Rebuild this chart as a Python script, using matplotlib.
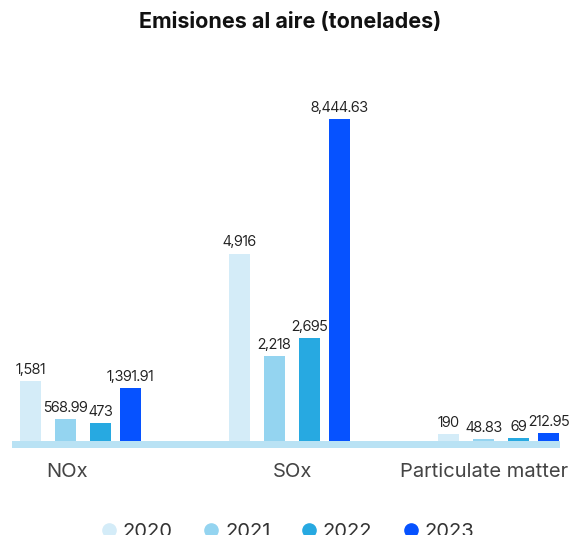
import matplotlib.pyplot as plt
from matplotlib.lines import Line2D

plt.rcParams['font.family'] = ['Inter', 'DejaVu Sans']

# emissions to air, tonnes
categories = ['NOx', 'SOx', 'Particulate matter']
years = ['2020', '2021', '2022', '2023']
values = {
    '2020': [1581, 4916, 190],
    '2021': [568.99, 2218, 48.83],
    '2022': [473, 2695, 69],
    '2023': [1391.91, 8444.63, 212.95],
}
value_labels = {
    '2020': ['1,581', '4,916', '190'],
    '2021': ['568.99', '2,218', '48.83'],
    '2022': ['473', '2,695', '69'],
    '2023': ['1,391.91', '8,444.63', '212.95'],
}
colors = ['#d4ecf8', '#94d4f0', '#27a9e1', '#0652ff']

# layout in pixel units of the canvas
W, H = 571, 535
group_start = [20, 229, 438]
bar_offset = [0, 35, 70, 100]
bar_w = 21
label_x = [67, 292, 484]
u = 8444.63 / 322          # data units per pixel
base_px, top_px = 448, 60  # bottom of baseline band, top of axes

fig = plt.figure(figsize=(W / 100, H / 100), dpi=100)
ax = fig.add_axes([0, (H - base_px) / H, 1, (base_px - top_px) / H])

for j, y in enumerate(years):
    xs = [g + bar_offset[j] for g in group_start]
    ax.bar(xs, values[y], width=bar_w, align='edge', color=colors[j], zorder=2)
    for x, v, s in zip(xs, values[y], value_labels[y]):
        ax.annotate(s, (x + bar_w / 2, v), xytext=(0, 3), textcoords='offset points',
                    ha='center', va='bottom', fontsize=10.5, color='#222222',
                    family=['Inter Tight', 'Inter'], clip_on=False)

# light baseline band under the bars
ax.axhspan(-7 * u, 0, xmin=12 / W, xmax=560 / W, color='#b9e2f4', lw=0, zorder=1)

ax.set_xlim(0, W)
ax.set_ylim(-7 * u, (441 - top_px) * u)
ax.set_xticks(label_x)
ax.set_xticklabels(categories, fontsize=14.5, color='#444444')
ax.tick_params(axis='x', length=0, pad=11)
ax.set_yticks([])
for sp in ax.spines.values():
    sp.set_visible(False)

fig.text(0.508, 1 - 22 / H, 'Emisiones al aire (tonelades)', ha='center', va='center',
         fontsize=15.5, fontweight='bold', color='#111111')

handles = [Line2D([], [], marker='o', ls='', markersize=9.5, color=c) for c in colors]
fig.legend(handles, years, loc='center', bbox_to_anchor=(0.5, 1 - 532 / H), ncol=4,
           frameon=False, fontsize=14.5, handletextpad=0.1, columnspacing=1.3,
           handlelength=1.2, labelcolor='#333333')

fig.savefig('out.png', dpi=100)
